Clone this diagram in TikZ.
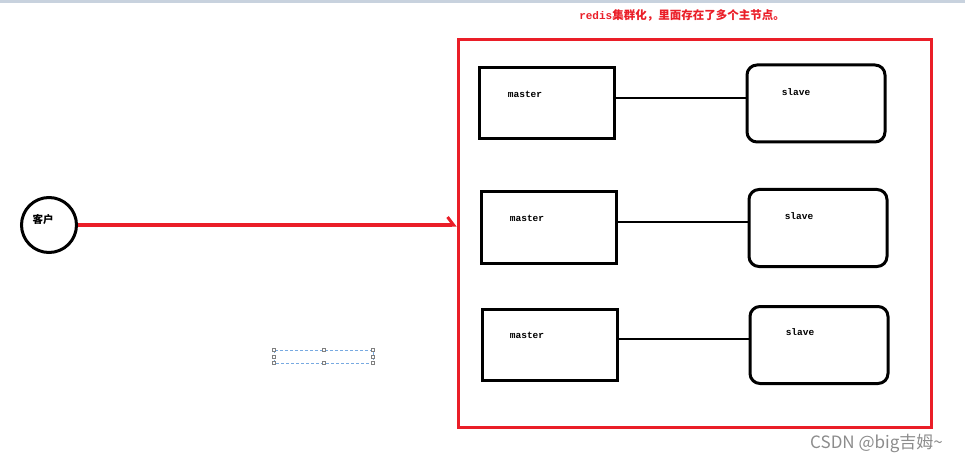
\documentclass[tikz,border=0pt]{standalone}
\usepackage{fontspec}
\setmonofont{Liberation Mono}
\newfontfamily\cjk{Noto Sans CJK SC}
\usetikzlibrary{calc,arrows.meta}
\definecolor{redisred}{RGB}{234,30,40}
\definecolor{topbar}{RGB}{200,210,222}
\definecolor{selblue}{RGB}{120,170,225}
\tikzset{master/.style={draw,line width=3pt,minimum width=135pt,minimum height=71pt,inner sep=0pt},
slave/.style={draw,line width=3pt,rounded corners=10pt,minimum width=138pt,minimum height=77pt,inner sep=0pt},
lbl/.style={font=\ttfamily\bfseries\fontsize{9.5}{10}\selectfont,inner sep=0pt},
handle/.style={fill=white,draw=gray,line width=0.4pt}}

\begin{document}
\begin{tikzpicture}[x=1pt,y=-1pt]
\useasboundingbox (0,0) rectangle (965,462);
\fill[topbar] (0,0) rectangle (965,3.5);
\node[text=redisred,inner sep=0pt] (title) at (682,15)
{{\ttfamily\bfseries\fontsize{11}{12}\selectfont redis}{\cjk\bfseries\fontsize{11.5}{12}\selectfont 集群化，里面存在了多个主节点。}};
\node[draw=redisred,line width=3pt,minimum width=473pt,minimum height=387pt,inner sep=0pt] (cluster) at (694.5,233.5) {};
\node[circle,draw,line width=3pt,minimum size=55pt,inner sep=0pt] (client) at (49,225) {};
\node[font=\cjk\bfseries\fontsize{10.5}{11}\selectfont,inner sep=0pt] (clientlbl) at (43,219) {客户};
\draw[redisred,line width=3pt,-{Straight Barb[left,length=6pt,width=16pt]}] (client.east) -- (client.east -| cluster.west);

% masters and slaves
\node[master] (m1) at (546.5,103.5) {};
\node[master] (m2) at (548.5,227.5) {};
\node[master] (m3) at (549.5,344.5) {};
\node[slave] (s1) at (816,103.5) {};
\node[slave] (s2) at (818,228) {};
\node[slave] (s3) at (819,345) {};
\node[lbl] (t1) at (525,94) {master};
\node[lbl] (t2) at (527,218) {master};
\node[lbl] (t3) at (527,335) {master};
\node[lbl] (u1) at (796,92) {slave};
\node[lbl] (u2) at (799,216) {slave};
\node[lbl] (u3) at (800,332) {slave};
\draw[line width=2.8pt] ($(m1.east)+(0,-5.5)$) -- ($(s1.west)+(0,-5.5)$);
\draw[line width=2.8pt] ($(m2.east)+(0,-5.5)$) -- ($(s2.west)+(0,-6)$);
\draw[line width=2.8pt] ($(m3.east)+(0,-5.5)$) -- ($(s3.west)+(0,-6)$);

% selection box
\draw[selblue,dash pattern=on 3pt off 2pt,line width=0.7pt] (274,350) rectangle (373,363);
\foreach \p in {(274,350),(323.5,350),(373,350),(274,356.5),(373,356.5),(274,363),(323.5,363),(373,363)}
\draw[handle] \p ++(-1.6,-1.6) rectangle ++(3.2,3.2);

\node[font=\cjk\fontsize{17}{17}\selectfont,text=black!45,anchor=west,inner sep=0pt] (mark) at (810,443) {CSDN @big吉姆\textasciitilde};
\end{tikzpicture}
\end{document}
